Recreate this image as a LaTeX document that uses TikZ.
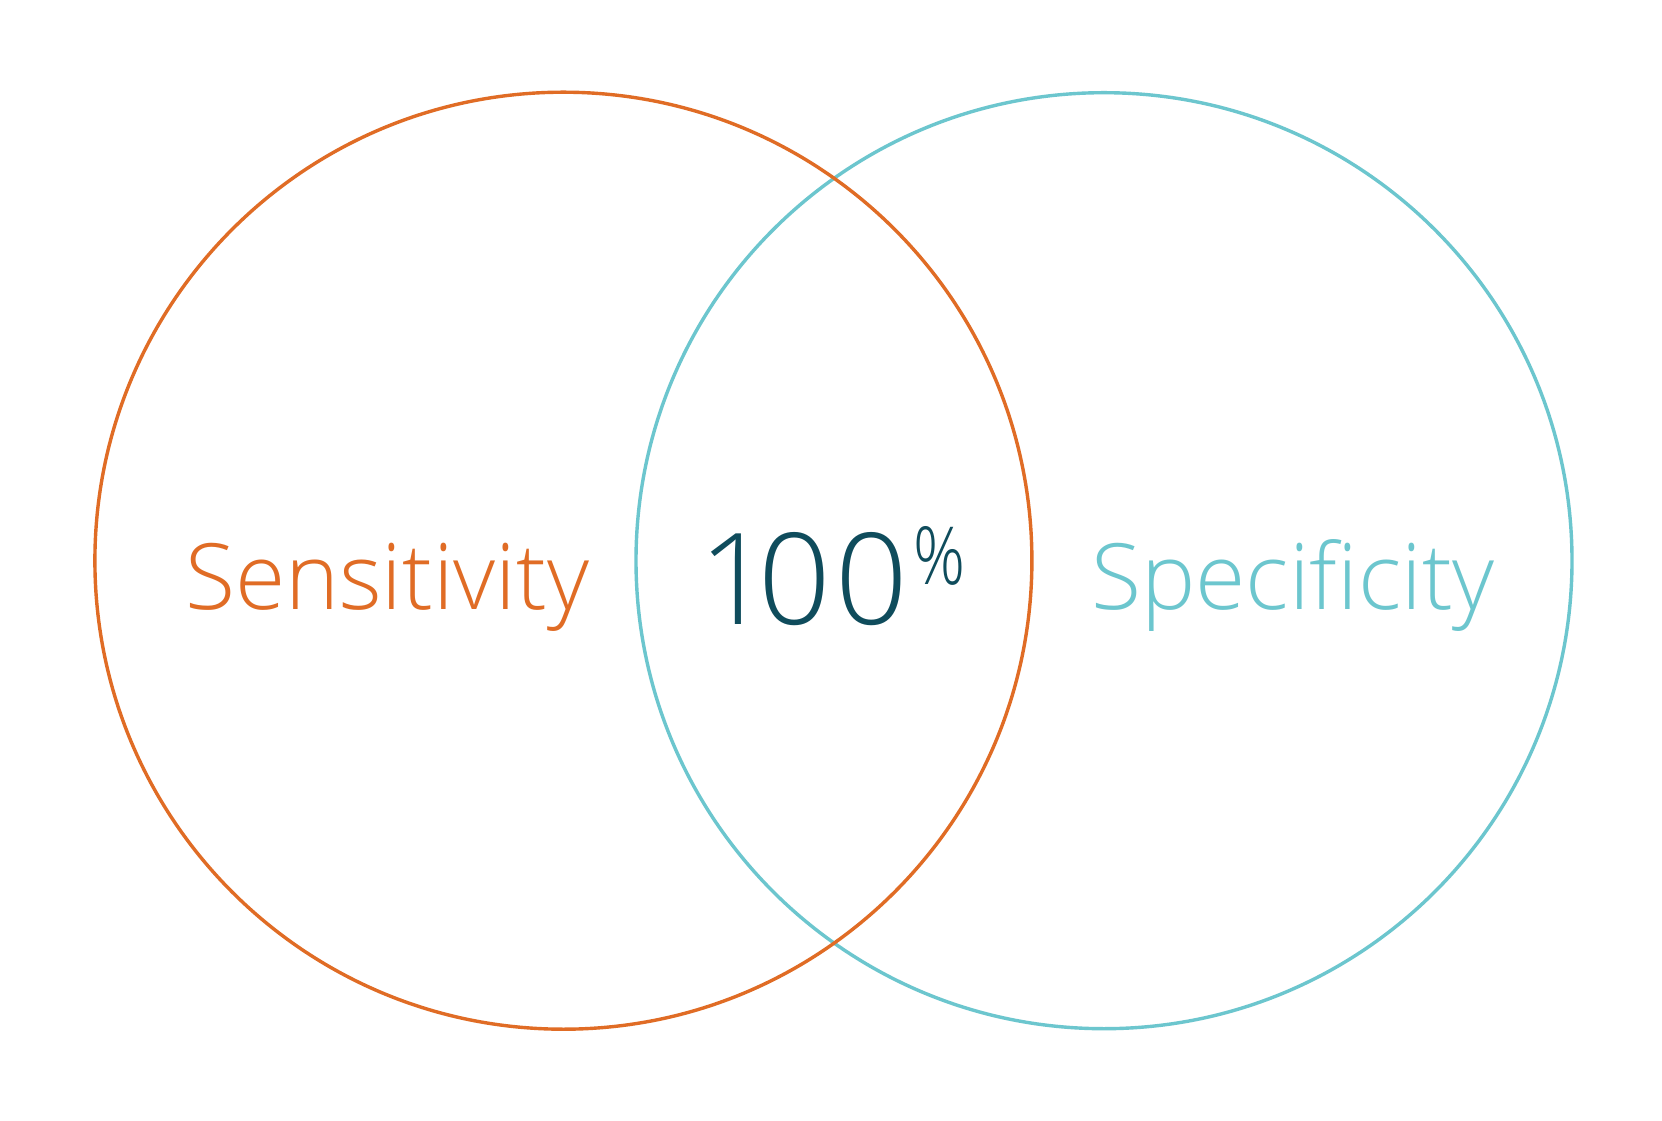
\documentclass[tikz,border=0pt]{standalone}
\usepackage{fontspec}
\setmainfont{Open Sans}[UprightFont=* Light,Ligatures=NoCommon]
\definecolor{sensor}{HTML}{E06C25}
\definecolor{specteal}{HTML}{6CC6CE}
\definecolor{darkteal}{HTML}{0F4C5C}
\begin{document}
\begin{tikzpicture}[x=1pt,y=1pt,
  ring/.style={line width=3.4pt},
  lbl/.style={inner sep=0pt,anchor=base west}]
\useasboundingbox (0,0) rectangle (1662,1120);
\fill[white] (0,0) rectangle (1662,1120);
\draw[ring,specteal] (1104,559.3) circle[radius=468];
\draw[ring,sensor] (563.4,559.3) circle[radius=468.5];
\node[lbl,text=sensor,font=\fontsize{91.5}{100}\selectfont] (sens) at (185,510.5) {Sensitivity};
\node[lbl,text=specteal,font=\fontsize{91.5}{100}\selectfont] (spec) at (1091,510.5) {Specificity};
\node[lbl,text=darkteal,font=\fontsize{127}{140}\selectfont\addfontfeatures{Numbers=Proportional}] (hund) at (707,495) {1\kern5pt0\kern5pt0};
\node[lbl,text=darkteal] (pct) at (913,535) {\resizebox{52pt}{58pt}{\%}};
\end{tikzpicture}
\end{document}
